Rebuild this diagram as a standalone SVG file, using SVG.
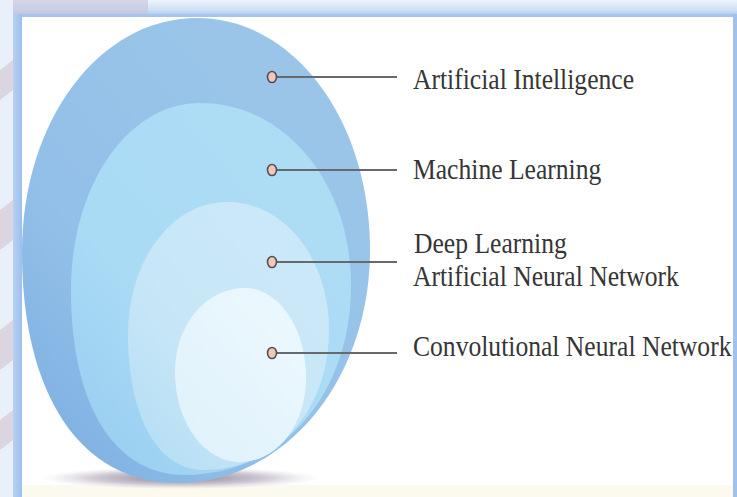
<svg xmlns="http://www.w3.org/2000/svg" width="737" height="497" viewBox="0 0 737 497">
  <defs>
    <style>
      .lbl { font-family: "Liberation Serif", "Times New Roman", serif; font-size: 29px; fill: #363636; }
      .conn { stroke: #666a6e; stroke-width: 2.2; fill: none; }
      .dot { fill: #f3c6b6; stroke: #505256; stroke-width: 1.6; }
    </style>
    <linearGradient id="topBand" x1="0" y1="0" x2="0" y2="1">
      <stop offset="0" stop-color="#eef4fc"/>
      <stop offset="0.6" stop-color="#cddff6"/>
      <stop offset="1" stop-color="#a3c2ec"/>
    </linearGradient>
    <linearGradient id="leftStrip" x1="0" y1="0" x2="1" y2="0">
      <stop offset="0" stop-color="#b8d0f2"/>
      <stop offset="1" stop-color="#9ec0ec"/>
    </linearGradient>
    <linearGradient id="gAI" x1="0" y1="1" x2="0.7" y2="0.2">
      <stop offset="0" stop-color="#78ace0"/>
      <stop offset="0.45" stop-color="#92bfe8"/>
      <stop offset="1" stop-color="#9ac5e9"/>
    </linearGradient>
    <linearGradient id="gML" x1="0" y1="1" x2="0.7" y2="0.2">
      <stop offset="0" stop-color="#96cbf0"/>
      <stop offset="0.5" stop-color="#a9dbf5"/>
      <stop offset="1" stop-color="#addcf5"/>
    </linearGradient>
    <linearGradient id="gDL" x1="0" y1="1" x2="0.7" y2="0.2">
      <stop offset="0" stop-color="#b2dcf4"/>
      <stop offset="0.5" stop-color="#c6e6f7"/>
      <stop offset="1" stop-color="#cae8f7"/>
    </linearGradient>
    <linearGradient id="gCNN" x1="0" y1="1" x2="0.7" y2="0.2">
      <stop offset="0" stop-color="#def1fb"/>
      <stop offset="1" stop-color="#eaf7fd"/>
    </linearGradient>
    <radialGradient id="shadow" cx="0.5" cy="0.5" r="0.5">
      <stop offset="0" stop-color="#6f6478" stop-opacity="0.85"/>
      <stop offset="0.6" stop-color="#9a90a6" stop-opacity="0.5"/>
      <stop offset="1" stop-color="#c8c0d0" stop-opacity="0"/>
    </radialGradient>
  </defs>

  <!-- frame -->
  <g id="frame">
    <rect x="0" y="0" width="737" height="497" fill="#ffffff"/>
    <rect x="0" y="0" width="737" height="17" fill="url(#topBand)"/>
    <rect x="0" y="0" width="148" height="17" fill="#c6c2dc" opacity="0.6"/>
    <rect x="0" y="0" width="13" height="497" fill="#eaf0f9"/>
    <path d="M0,70 L13,60 L13,90 L0,100 Z M0,210 L13,200 L13,240 L0,250 Z M0,330 L13,320 L13,360 L0,370 Z M0,420 L13,410 L13,440 L0,450 Z" fill="#cfc3cf" opacity="0.6"/>
    <rect x="13" y="14" width="9" height="483" fill="url(#leftStrip)"/>
    <rect x="22" y="14" width="711" height="3" fill="#a7c4ec"/>
    <rect x="733" y="14" width="4" height="483" fill="#9fc1ec"/>
    <rect x="22" y="485" width="711" height="12" fill="#fcf9ee"/>
  </g>

  <!-- shadow -->
  <ellipse cx="180" cy="478" rx="140" ry="11" fill="url(#shadow)"/>

  <!-- layers (nodes) -->
  <g id="node-ai">
    <path d="M197,18 C294,18 370,120 370,250 C370,380 285,483 177,483 C81,483 22,395 22,252 C22,121 99,18 197,18 Z" fill="url(#gAI)"/>
  </g>
  <g id="node-ml">
    <path d="M200,103 C285,103 351,183 351,285 C351,395 281,475 185,475 C114,475 71,405 71,290 C71,185 128,103 200,103 Z" fill="url(#gML)"/>
  </g>
  <g id="node-dl">
    <path d="M227,202 C284,202 329,258 329,330 C329,411 276,470 203,470 C158,470 128,416 128,335 C128,260 172,202 227,202 Z" fill="url(#gDL)"/>
  </g>
  <g id="node-cnn">
    <path d="M245,288 C279,288 306,328 306,378 C306,425 277,462 240,462 C204,462 175,422 175,372 C175,325 206,288 245,288 Z" fill="url(#gCNN)"/>
  </g>

  <!-- connectors -->
  <g id="connectors">
    <line class="conn" x1="277" y1="77" x2="397" y2="77"/>
    <line class="conn" x1="277" y1="170" x2="397" y2="170"/>
    <line class="conn" x1="277" y1="262" x2="397" y2="262"/>
    <line class="conn" x1="277" y1="353" x2="397" y2="353"/>
    <ellipse class="dot" cx="272" cy="77" rx="4.5" ry="5.5"/>
    <ellipse class="dot" cx="272" cy="170" rx="4.5" ry="5.5"/>
    <ellipse class="dot" cx="272" cy="262" rx="4.5" ry="5.5"/>
    <ellipse class="dot" cx="272" cy="353" rx="4.5" ry="5.5"/>
  </g>

  <!-- labels -->
  <g id="label-ai">
    <text class="lbl" transform="translate(413,89) scale(0.883,1)">Artificial Intelligence</text>
  </g>
  <g id="label-ml">
    <text class="lbl" transform="translate(413,179) scale(0.883,1)">Machine Learning</text>
  </g>
  <g id="label-dl">
    <text class="lbl" transform="translate(414,253) scale(0.883,1)">Deep Learning</text>
    <text class="lbl" transform="translate(413,286) scale(0.883,1)">Artificial Neural Network</text>
  </g>
  <g id="label-cnn">
    <text class="lbl" transform="translate(413,356) scale(0.883,1)">Convolutional Neural Network</text>
  </g>
</svg>
